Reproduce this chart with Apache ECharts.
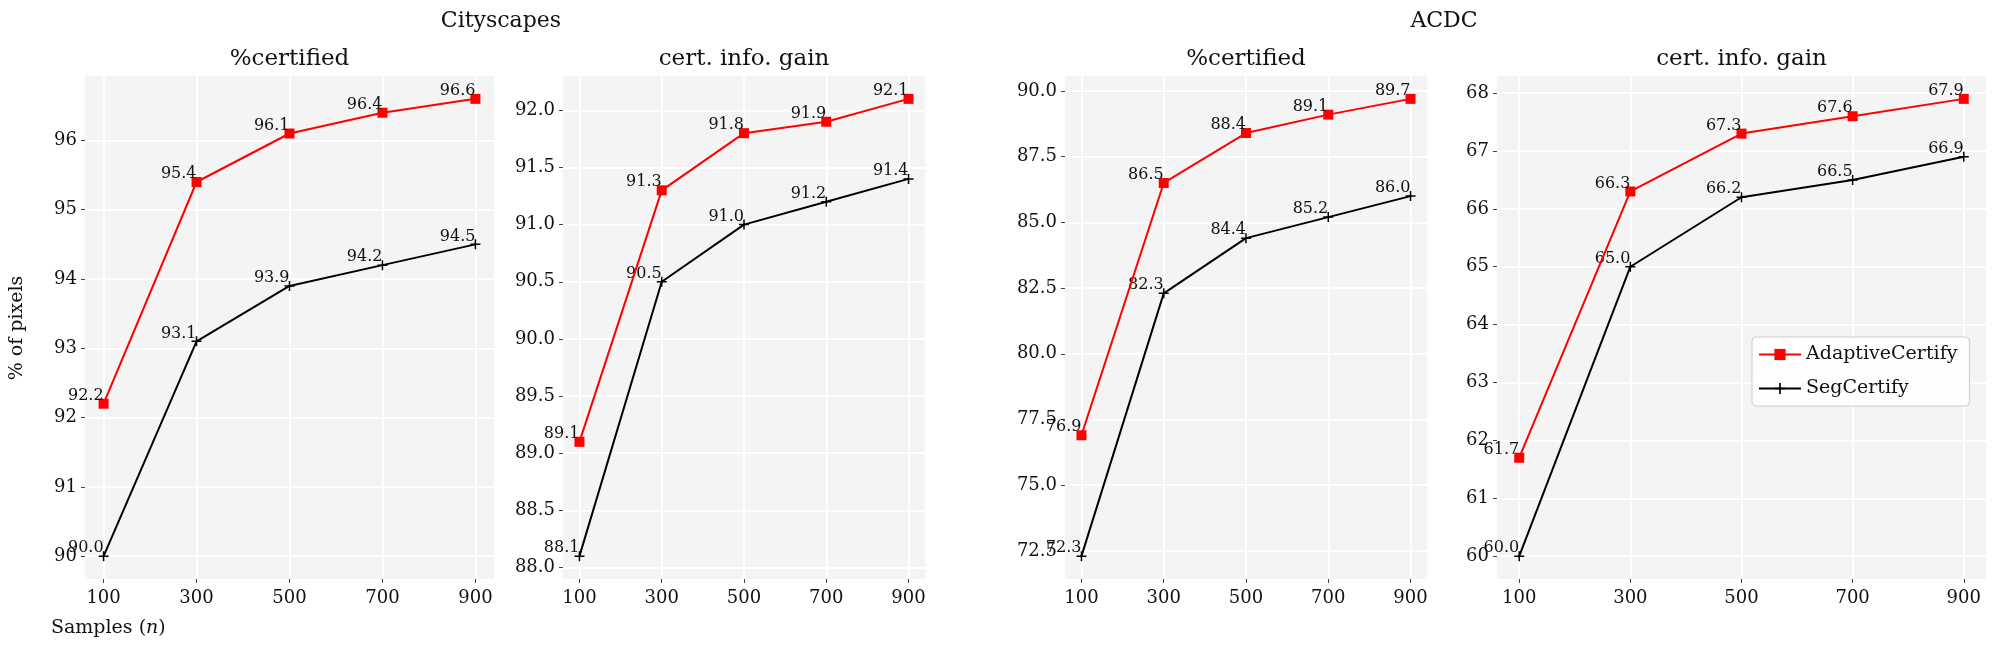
<!DOCTYPE html>
<html>
<head>
<meta charset="utf-8">
<script src="https://cdn.jsdelivr.net/npm/echarts@6/dist/echarts.min.js"></script>
<style>
  html, body { margin: 0; padding: 0; background: #fff; }
  #chart { width: 1996px; height: 649px; }
</style>
</head>
<body>
<div id="chart"></div>
<script>
var samples = [100, 300, 500, 700, 900];
var panelTitles = ['%certified', 'cert. info. gain', '%certified', 'cert. info. gain'];

// AdaptiveCertify / SegCertify per panel
var cityCertAdaptive = [92.2, 95.4, 96.1, 96.4, 96.6];
var cityCertSeg = [90.0, 93.1, 93.9, 94.2, 94.5];
var cityGainAdaptive = [89.1, 91.3, 91.8, 91.9, 92.1];
var cityGainSeg = [88.1, 90.5, 91.0, 91.2, 91.4];
var acdcCertAdaptive = [76.9, 86.5, 88.4, 89.1, 89.7];
var acdcCertSeg = [72.3, 82.3, 84.4, 85.2, 86.0];
var acdcGainAdaptive = [61.7, 66.3, 67.3, 67.6, 67.9];
var acdcGainSeg = [60.0, 65.0, 66.2, 66.5, 66.9];

// y tick labels per panel
var yTicks1 = [90, 91, 92, 93, 94, 95, 96];
var yTicks2 = [88.0, 88.5, 89.0, 89.5, 90.0, 90.5, 91.0, 91.5, 92.0];
var yTicks3 = [72.5, 75.0, 77.5, 80.0, 82.5, 85.0, 87.5, 90.0];
var yTicks4 = [60, 61, 62, 63, 64, 65, 66, 67, 68];

var adaptive = [cityCertAdaptive, cityGainAdaptive, acdcCertAdaptive, acdcGainAdaptive];
var seg = [cityCertSeg, cityGainSeg, acdcCertSeg, acdcGainSeg];
var yTicks = [yTicks1, yTicks2, yTicks3, yTicks4];
var yDecimals = [0, 1, 1, 0];

var font = 'DejaVu Serif';
var boxes = [
    { left: 85, width: 409 },
    { left: 563, width: 362 },
    { left: 1065, width: 362 },
    { left: 1497, width: 489 }
];
var plotTop = 76, plotHeight = 503;

var plusPath = 'path://M8.5,0 H11.5 V8.5 H20 V11.5 H11.5 V20 H8.5 V11.5 H0 V8.5 H8.5 Z';

var chart = echarts.init(document.getElementById('chart'));

var grids = [], xAxes = [], yAxes = [], series = [], graphics = [];

for (var i = 0; i < 4; i++) {
    var all = adaptive[i].concat(seg[i]);
    var lo = Math.min.apply(null, all), hi = Math.max.apply(null, all);
    var pad = (hi - lo) * 0.05;

    grids.push({
        left: boxes[i].left, top: plotTop, width: boxes[i].width, height: plotHeight,
        show: true, backgroundColor: '#f4f4f4', borderWidth: 0
    });
    xAxes.push({
        type: 'value', gridIndex: i, min: 60, max: 940,
        axisLine: { show: false },
        axisTick: { show: true, length: 4, lineStyle: { color: '#444' }, customValues: samples },
        axisLabel: { customValues: samples, color: '#111', fontFamily: font, fontSize: 18, margin: 10 },
        splitLine: { show: true, lineStyle: { color: '#fff', width: 2 } }
    });
    (function (dec) {
        yAxes.push({
            type: 'value', gridIndex: i, min: lo - pad, max: hi + pad,
            axisLine: { show: false },
            axisTick: { show: true, length: 4, lineStyle: { color: '#444' }, customValues: yTicks[i] },
            axisLabel: {
                customValues: yTicks[i], color: '#111', fontFamily: font, fontSize: 18, margin: 8,
                formatter: function (v) { return v.toFixed(dec); }
            },
            splitLine: { show: true, lineStyle: { color: '#fff', width: 2 } }
        });
    })(yDecimals[i]);

    var label = {
        show: true, position: ['50%', '50%'], align: 'right', verticalAlign: 'bottom',
        fontFamily: font, fontSize: 16, color: '#111',
        formatter: function (p) { return p.value[1].toFixed(1); }
    };
    series.push({
        name: 'SegCertify', type: 'line', xAxisIndex: i, yAxisIndex: i,
        data: samples.map(function (x, k) { return [x, seg[i][k]]; }),
        symbol: plusPath, symbolSize: 10,
        lineStyle: { color: '#000', width: 2 }, itemStyle: { color: '#000' },
        label: label, z: 3
    });
    series.push({
        name: 'AdaptiveCertify', type: 'line', xAxisIndex: i, yAxisIndex: i,
        data: samples.map(function (x, k) { return [x, adaptive[i][k]]; }),
        symbol: 'rect', symbolSize: 10,
        lineStyle: { color: '#ff0000', width: 2 }, itemStyle: { color: '#ff0000' },
        label: label, z: 4
    });

    graphics.push({
        type: 'text', x: boxes[i].left + boxes[i].width / 2, y: 59,
        style: { text: panelTitles[i], font: '23px "DejaVu Serif"', fill: '#111', align: 'center', verticalAlign: 'middle' }
    });
}

graphics.push({
    type: 'text', x: 501, y: 21,
    style: { text: 'Cityscapes', font: '22px "DejaVu Serif"', fill: '#111', align: 'center', verticalAlign: 'middle' }
});
graphics.push({
    type: 'text', x: 1444, y: 21,
    style: { text: 'ACDC', font: '22px "DejaVu Serif"', fill: '#111', align: 'center', verticalAlign: 'middle' }
});
graphics.push({
    type: 'text', x: 17, y: 328, rotation: Math.PI / 2,
    style: { text: '% of pixels', font: '19px "DejaVu Serif"', fill: '#111', align: 'center', verticalAlign: 'middle' }
});
graphics.push({
    type: 'text', x: 51, y: 628,
    style: {
        text: '{a|Samples (}{b|n}{a|)}',
        rich: {
            a: { fontFamily: font, fontSize: 19, fill: '#111' },
            b: { fontFamily: font, fontSize: 19, fontStyle: 'italic', fill: '#111' }
        },
        verticalAlign: 'middle'
    }
});

var option = {
    animation: false,
    backgroundColor: '#fff',
    grid: grids,
    xAxis: xAxes,
    yAxis: yAxes,
    legend: {
        data: ['AdaptiveCertify', 'SegCertify'],
        orient: 'vertical', left: 1752, top: 337,
        itemWidth: 42, itemHeight: 14, itemGap: 15,
        padding: [8, 12, 8, 6],
        backgroundColor: 'rgba(255,255,255,0.85)',
        borderColor: '#ccc', borderWidth: 1, borderRadius: 4,
        textStyle: { fontFamily: font, fontSize: 19, color: '#111' }
    },
    graphic: graphics,
    series: series
};
chart.setOption(option);
window.onresize = chart.resize;
</script>
</body>
</html>
